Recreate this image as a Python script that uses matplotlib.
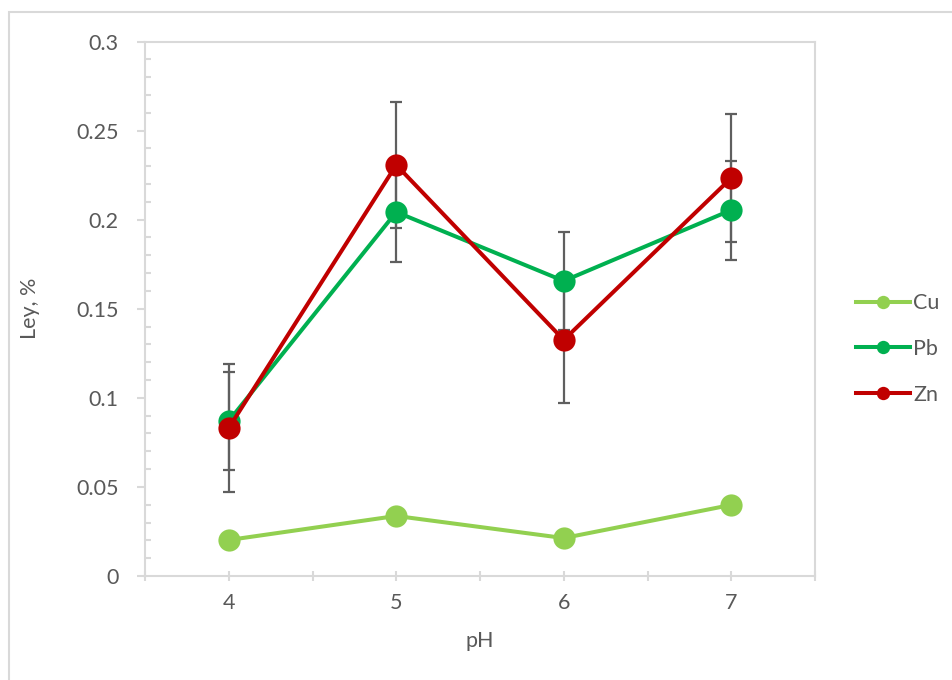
import matplotlib
matplotlib.use("Agg")
import matplotlib.pyplot as plt
from matplotlib.patches import Rectangle
from matplotlib.ticker import FixedLocator, MultipleLocator

plt.rcParams['font.family'] = ['Lato', 'DejaVu Sans']

# pH levels and metal grades (%)
ph = [4, 5, 6, 7]
cu = [0.0202, 0.0337, 0.0213, 0.0399]
pb = [0.0870, 0.2043, 0.1656, 0.2054]
zn = [0.0831, 0.2307, 0.1325, 0.2234]
pb_err = [0.0275, 0.0280, 0.0276, 0.0278]
zn_err = [0.0357, 0.0355, 0.0356, 0.0360]

y_ticks = [0, 0.05, 0.1, 0.15, 0.2, 0.25, 0.3]
y_tick_labels = ["0", "0.05", "0.1", "0.15", "0.2", "0.25", "0.3"]
x_tick_labels = ["4", "5", "6", "7"]

series = [
    ("Cu", cu, None, "#92D050"),
    ("Pb", pb, pb_err, "#00B050"),
    ("Zn", zn, zn_err, "#C00000"),
]

W, H = 952, 680
FS = 15.5
fig = plt.figure(figsize=(W / 100, H / 100), dpi=100)
fig.patch.set_facecolor("white")

# outer chart frame
fig.patches.append(Rectangle((9 / W, -0.05), 1.2, 1.05 - 12 / H,
                             transform=fig.transFigure, fill=False,
                             edgecolor="#D9D9D9", linewidth=1.5))

ax = fig.add_axes([145 / W, 104 / H, 670 / W, 534.5 / H])

grey = "#D9D9D9"
text_col = "#595959"

for name, vals, err, col in series:
    if err is not None:
        ax.errorbar(ph, vals, yerr=err, fmt="none", ecolor="#5F5F5F",
                    elinewidth=1.6, capsize=4.3, capthick=1.6, zorder=2)
for name, vals, err, col in series:
    ax.plot(ph, vals, color=col, linewidth=2.9, marker="o", markersize=16,
            markeredgewidth=0, label=name, zorder=3)

ax.set_xlim(3.5, 7.5)
ax.set_ylim(0, 0.3)

for s in ax.spines.values():
    s.set_color(grey)
    s.set_linewidth(1.5)

ax.xaxis.set_major_locator(FixedLocator(ph))
ax.set_xticklabels(x_tick_labels)
ax.xaxis.set_minor_locator(FixedLocator([3.5, 4.5, 5.5, 6.5, 7.5]))
ax.tick_params(axis="x", which="both", direction="inout", length=7,
               width=1.5, color=grey, labelcolor=text_col, labelsize=FS, pad=9)

ax.set_yticks(y_ticks)
ax.set_yticklabels(y_tick_labels)
ax.yaxis.set_minor_locator(MultipleLocator(0.01))
ax.tick_params(axis="y", which="major", direction="out", length=6,
               width=1.5, color=grey, labelcolor=text_col, labelsize=FS, pad=13)
ax.tick_params(axis="y", which="minor", direction="in", length=4,
               width=1.5, color=grey)

ax.set_xlabel("pH", color=text_col, fontsize=FS, labelpad=13)
ax.set_ylabel("Ley, %", color=text_col, fontsize=FS, labelpad=26)

leg = fig.legend(loc="center left", bbox_to_anchor=(837 / W, 1 - 349 / H),
                 frameon=False, fontsize=FS, handlelength=2.5,
                 handletextpad=0.15, labelspacing=1.2, markerscale=0.6,
                 labelcolor=text_col)

fig.savefig("out.png", dpi=100, facecolor="white")
